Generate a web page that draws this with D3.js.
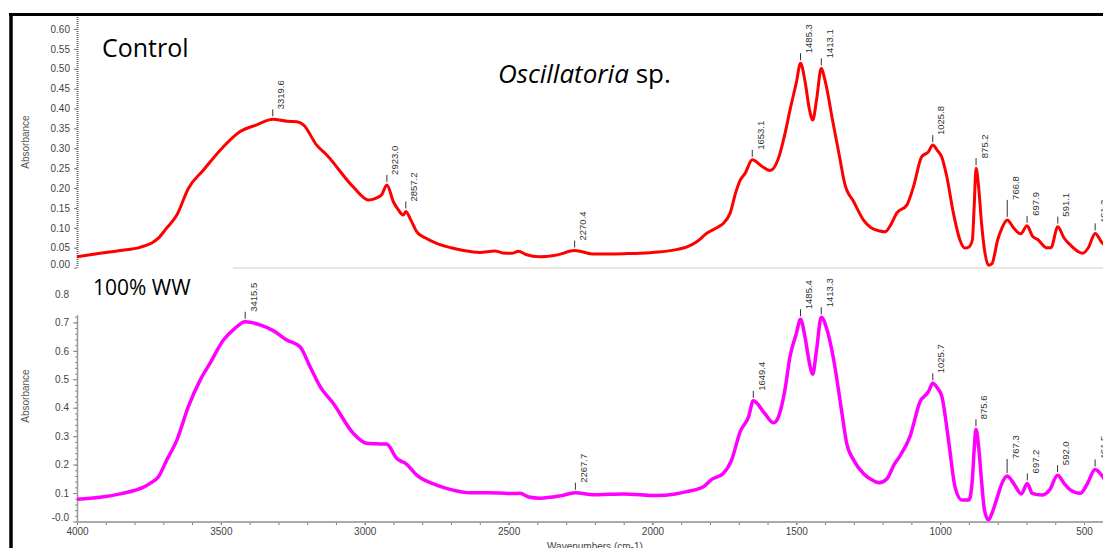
<!DOCTYPE html>
<html>
<head>
<meta charset="utf-8">
<script src="https://cdn.jsdelivr.net/npm/d3@7/dist/d3.min.js"></script>
<style>
    body { margin: 0; background: #fff; }
    svg { display: block; }
</style>
</head>
<body>
<div class="spectraDiv"></div>
<script>
"use strict";

//
/* Data: */
//

// Control spectrum (wavenumber, absorbance)
var controlWave = [4000, 3920, 3850, 3781, 3740, 3717, 3690, 3653, 3613, 3561, 3491, 3433, 3375, 3319.6, 3270, 3236, 3213, 3167, 3132,
    3040, 2987, 2960, 2941, 2923.0, 2900, 2883, 2866, 2857.2, 2840, 2819, 2790, 2750, 2700, 2657, 2600, 2548, 2520, 2490, 2465, 2440,
    2391, 2330, 2270.4, 2205, 2100, 2043, 1980, 1927, 1880, 1846, 1810, 1770, 1754, 1730, 1710, 1695, 1678, 1653.1, 1620, 1591, 1562,
    1540, 1522, 1500, 1485.3, 1470, 1455, 1443, 1430, 1413.1, 1400, 1372, 1350, 1332, 1300, 1267, 1240, 1210, 1192, 1170, 1151, 1116,
    1093, 1064, 1041, 1025.8, 1010, 994, 977, 954, 931, 914, 900, 888, 882, 875.2, 866, 856, 847, 832, 820, 800, 785, 766.8, 745, 720,
    697.9, 680, 660, 630, 615, 591.1, 570, 545, 520, 505, 485, 461.3, 440, 420];
var controlAbs = [0.027, 0.036, 0.043, 0.051, 0.062, 0.074, 0.098, 0.132, 0.199, 0.245, 0.304, 0.342, 0.359, 0.373, 0.368, 0.367, 0.359, 0.308, 0.283,
    0.203, 0.170, 0.175, 0.183, 0.208, 0.165, 0.145, 0.132, 0.141, 0.120, 0.090, 0.075, 0.061, 0.050, 0.043, 0.038, 0.042, 0.037, 0.036, 0.041, 0.033,
    0.027, 0.032, 0.043, 0.034, 0.035, 0.036, 0.039, 0.044, 0.052, 0.065, 0.087, 0.103, 0.111, 0.137, 0.190, 0.220, 0.237, 0.271, 0.255, 0.244, 0.275,
    0.335, 0.396, 0.465, 0.514, 0.470, 0.400, 0.371, 0.420, 0.501, 0.470, 0.363, 0.280, 0.212, 0.165, 0.120, 0.100, 0.092, 0.090, 0.110, 0.137, 0.157,
    0.203, 0.279, 0.291, 0.308, 0.295, 0.277, 0.229, 0.137, 0.069, 0.049, 0.052, 0.070, 0.150, 0.250, 0.200, 0.110, 0.050, 0.006, 0.010, 0.070, 0.100, 0.120, 0.100, 0.085,
    0.105, 0.080, 0.070, 0.050, 0.050, 0.103, 0.075, 0.055, 0.040, 0.036, 0.050, 0.086, 0.065, 0.050];
var controlPeaks = [3319.6, 2923.0, 2857.2, 2270.4, 1653.1, 1485.3, 1413.1, 1025.8, 875.2, 766.8, 697.9, 591.1, 461.3];

// 100% WW spectrum
var wwWave = [4000, 3920, 3850, 3804, 3770, 3746, 3717, 3688, 3653, 3613, 3572, 3538, 3491, 3451, 3415.5, 3364, 3318, 3271, 3225, 3190,
    3155, 3109, 3040, 2994, 2960, 2924, 2889, 2855, 2819, 2750, 2700, 2634, 2576, 2530, 2490, 2460, 2430, 2391, 2321, 2267.7, 2205, 2100,
    1985, 1920, 1881, 1823, 1794, 1754, 1725, 1695, 1666, 1649.4, 1610, 1579, 1562, 1540, 1522, 1500, 1485.4, 1470, 1455, 1443, 1430,
    1413.3, 1395, 1372, 1343, 1325, 1300, 1267, 1240, 1212, 1185, 1160, 1140, 1105, 1070, 1041, 1025.7, 1010, 994, 971, 948, 925, 900,
    888, 882, 875.6, 866, 856, 846, 832, 820, 800, 785, 767.3, 741, 718, 697.2, 680, 646, 620, 592.0, 570, 548, 513, 490, 461.5, 435, 420];
var wwAbs = [0.078, 0.085, 0.097, 0.108, 0.120, 0.134, 0.157, 0.216, 0.286, 0.404, 0.497, 0.556, 0.638, 0.679, 0.702, 0.691, 0.671, 0.638, 0.614, 0.544,
    0.474, 0.415, 0.310, 0.275, 0.273, 0.272, 0.222, 0.202, 0.163, 0.128, 0.112, 0.101, 0.101, 0.100, 0.098, 0.099, 0.086, 0.082, 0.090, 0.101, 0.094, 0.097,
    0.091, 0.097, 0.105, 0.122, 0.148, 0.169, 0.216, 0.316, 0.368, 0.424, 0.380, 0.347, 0.368, 0.460, 0.579, 0.660, 0.711, 0.650, 0.560, 0.518, 0.600,
    0.718, 0.680, 0.579, 0.392, 0.275, 0.215, 0.169, 0.148, 0.136, 0.150, 0.200, 0.230, 0.298, 0.421, 0.456, 0.486, 0.470, 0.439, 0.286, 0.120, 0.076, 0.076,
    0.150, 0.250, 0.324, 0.260, 0.140, 0.040, 0.005, 0.029, 0.090, 0.135, 0.160, 0.128, 0.097, 0.134, 0.099, 0.093, 0.110, 0.163, 0.135, 0.111, 0.099, 0.130, 0.183, 0.157, 0.130];
var wwPeaks = [3415.5, 2267.7, 1649.4, 1485.4, 1413.3, 1025.7, 875.6, 767.3, 697.2, 592.0, 461.5];

// Axis ticks
var xTicks = [4000, 3500, 3000, 2500, 2000, 1500, 1000, 500];
var controlTicks = [0, 0.05, 0.10, 0.15, 0.20, 0.25, 0.30, 0.35, 0.40, 0.45, 0.50, 0.55, 0.60];
var wwTicks = [0, 0.1, 0.2, 0.3, 0.4, 0.5, 0.6, 0.7, 0.8];


//
/* Layout: */
//

var width = 1103;
var height = 548;
var axisFont = "'Liberation Sans', Arial, sans-serif";
var titleFont = "'Open Sans', sans-serif";

// longer leader lines on a couple of labels
var leaderLength = { "766.8": 17, "767.3": 14 };

var svg = d3.select(".spectraDiv").append("svg")
    .attr("width", width)
    .attr("height", height);

svg.append("rect").attr("width", width).attr("height", height).attr("fill", "#fff");

svg.append("defs").append("clipPath").attr("id", "plotClip")
    .append("rect").attr("x", 77).attr("y", 0).attr("width", width - 77).attr("height", height);

var x = d3.scaleLinear().domain([4000, 400]).range([77, 1112.8]);
var yTop = d3.scaleLinear().domain([0, 0.6]).range([267.6, 29.0]);
var yBot = d3.scaleLinear().domain([0, 0.8]).range([521.5, 293.9]);

var toPoints = function(wave, abs)
{
    return wave.map(function(w, i) { return [w, abs[i]]; });
};

var drawSpectrum = function(wave, abs, peaks, yScale, color, lineWidth)
{
    var line = d3.line()
        .x(function(d) { return x(d[0]); })
        .y(function(d) { return yScale(d[1]); })
        .curve(d3.curveMonotoneX);

    var g = svg.append("g").attr("clip-path", "url(#plotClip)");

    g.append("path")
        .datum(toPoints(wave, abs))
        .attr("d", line)
        .attr("fill", "none")
        .attr("stroke", color)
        .attr("stroke-width", lineWidth)
        .attr("stroke-linejoin", "round");

    var labels = g.selectAll(".peak")
        .data(peaks).enter()
        .append("g")
        .attr("class", "peak")
        .attr("transform", function(p) {
            return "translate(" + x(p) + "," + (yScale(abs[wave.indexOf(p)]) - 3) + ")";
        });

    labels.append("line")
        .attr("x1", 0).attr("x2", 0)
        .attr("y1", 0)
        .attr("y2", function(p) { return -(leaderLength[p.toFixed(1)] || 7); })
        .attr("stroke", "#333")
        .attr("stroke-width", 1);

    labels.append("text")
        .attr("transform", function(p) {
            return "translate(11.5," + -(leaderLength[p.toFixed(1)] || 7) + ") rotate(-90)";
        })
        .attr("font-family", axisFont)
        .attr("font-size", "9.5px")
        .attr("fill", "#333")
        .text(function(p) { return p.toFixed(1); });
};


//
/* Top panel (Control): */
//

// leftover x-axis line of the top panel
svg.append("line")
    .attr("x1", 233).attr("x2", width)
    .attr("y1", 268).attr("y2", 268)
    .attr("stroke", "#ebe7dc").attr("stroke-width", 2);

var topAxis = svg.append("g")
    .attr("transform", "translate(77,0)")
    .call(d3.axisLeft(yTop).tickValues(controlTicks).tickSize(3).tickPadding(4).tickFormat(d3.format(".2f")));
topAxis.select(".domain").remove();
topAxis.selectAll("line").attr("stroke", "#777");
topAxis.selectAll("text")
    .attr("font-family", axisFont).attr("font-size", "10px").attr("fill", "#444")
    .attr("dy", function(d) { return d === 0 ? "-0.05em" : "0.32em"; });

svg.append("line")
    .attr("x1", 77.5).attr("x2", 77.5)
    .attr("y1", yTop(0.63)).attr("y2", yTop(0))
    .attr("stroke", "#666").attr("stroke-width", 2)
    .attr("stroke-dasharray", "1,1");

svg.append("text")
    .attr("transform", "translate(29," + 142 + ") rotate(-90)")
    .attr("text-anchor", "middle")
    .attr("font-family", axisFont).attr("font-size", "10px").attr("fill", "#555")
    .text("Absorbance");

drawSpectrum(controlWave, controlAbs, controlPeaks, yTop, "#ff0000", 3);


//
/* Bottom panel (100% WW): */
//

var botAxis = svg.append("g")
    .attr("transform", "translate(77,0)")
    .call(d3.axisLeft(yBot).tickValues(wwTicks).tickSize(4).tickPadding(4)
        .tickFormat(function(d) { return d === 0 ? "-0.0" : d3.format(".1f")(d); }));
botAxis.select(".domain").remove();
botAxis.selectAll("line").attr("stroke", "#888")
    .attr("opacity", function(d) { return d > 0.75 ? 0 : 1; });
botAxis.selectAll("text")
    .attr("font-family", axisFont).attr("font-size", "10px").attr("fill", "#444")
    .attr("dy", function(d) { return d === 0 ? "-0.1em" : "0.32em"; });

var botMinor = svg.append("g")
    .attr("transform", "translate(77,0)")
    .call(d3.axisLeft(yBot).tickValues(d3.range(0, 0.725, 0.02)).tickSize(2).tickFormat(""));
botMinor.select(".domain").remove();
botMinor.selectAll("line").attr("stroke", "#888");

svg.append("line")
    .attr("x1", 77.5).attr("x2", 77.5)
    .attr("y1", yBot(0.725)).attr("y2", 522)
    .attr("stroke", "#999").attr("stroke-width", 1.5);

// x axis
var xAxis = svg.append("g")
    .attr("transform", "translate(0,522)")
    .call(d3.axisBottom(x).tickValues(xTicks).tickSize(3).tickPadding(3).tickFormat(d3.format("d")));
xAxis.select(".domain").remove();
xAxis.selectAll("line").attr("stroke", "#777");
xAxis.selectAll("text").attr("font-family", axisFont).attr("font-size", "10px").attr("fill", "#444");

var xMinor = svg.append("g")
    .attr("transform", "translate(0,522)")
    .call(d3.axisBottom(x).tickValues(d3.range(4000, 399, -100)).tickSize(3).tickFormat(""));
xMinor.select(".domain").remove();
xMinor.selectAll("line").attr("stroke", "#777");

svg.append("line")
    .attr("x1", 77).attr("x2", width)
    .attr("y1", 522).attr("y2", 522)
    .attr("stroke", "#aaa").attr("stroke-width", 2);

svg.append("text")
    .attr("x", (77 + 1112.8) / 2).attr("y", 550)
    .attr("text-anchor", "middle")
    .attr("font-family", axisFont).attr("font-size", "10px").attr("fill", "#444")
    .text("Wavenumbers (cm-1)");

svg.append("text")
    .attr("transform", "translate(29," + 396 + ") rotate(-90)")
    .attr("text-anchor", "middle")
    .attr("font-family", axisFont).attr("font-size", "10px").attr("fill", "#555")
    .text("Absorbance");

drawSpectrum(wwWave, wwAbs, wwPeaks, yBot, "#ff00ff", 3.5);


//
/* Titles and frame: */
//

svg.append("text")
    .attr("x", 102).attr("y", 57)
    .attr("font-family", titleFont).attr("font-size", "25px").attr("fill", "#000")
    .text("Control");

var species = svg.append("text")
    .attr("x", 498).attr("y", 83)
    .attr("font-family", titleFont).attr("font-size", "26px").attr("fill", "#000");
species.append("tspan").attr("font-style", "italic").text("Oscillatoria");
species.append("tspan").text(" sp.");

svg.append("text")
    .attr("x", 93).attr("y", 295)
    .attr("font-family", titleFont).attr("font-size", "21px").attr("fill", "#000")
    .text("100% WW");

svg.append("line")
    .attr("x1", 9).attr("x2", width)
    .attr("y1", 14.5).attr("y2", 14.5)
    .attr("stroke", "#000").attr("stroke-width", 3);
svg.append("line")
    .attr("x1", 11).attr("x2", 11)
    .attr("y1", 13).attr("y2", height)
    .attr("stroke", "#000").attr("stroke-width", 3.5);
</script>
</body>
</html>
